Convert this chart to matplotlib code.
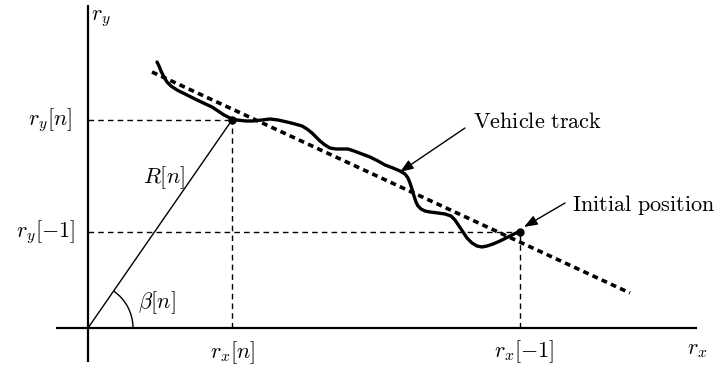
import numpy as np
import matplotlib
matplotlib.use("Agg")
import matplotlib.pyplot as plt
from matplotlib.patches import Arc

plt.rcParams['mathtext.fontset'] = 'cm'

# Diagram data (origin at axes crossing, y upward)
track_x = [69, 71, 73, 76, 79, 83, 89, 99, 109, 124, 136, 142, 149, 158, 165, 174,
           182, 190, 199, 207, 214, 219, 224, 228, 232, 237, 242, 248, 254, 260,
           266, 274, 282, 290, 297, 305, 312, 317, 320, 322, 324, 326, 328, 330,
           333, 337, 342, 350, 357, 363, 367, 371, 375, 379, 384, 389, 394, 399,
           405, 412, 418, 424, 428, 432]
track_y = [266, 262, 257, 251, 246, 242, 238, 233, 228, 221, 213, 210, 208, 207, 207, 208,
           209, 208, 206, 204, 202, 199, 195, 191, 187, 183, 180, 179, 179, 179,
           177, 174, 171, 167, 163, 160, 157, 154, 150, 145, 139, 132, 126, 122,
           119, 117, 116, 115, 114, 112, 108, 102, 96, 90, 85, 82, 81, 82,
           84, 87, 90, 93, 95, 96]
fit_x = [64, 542]
fit_y = [256, 35]
current_pt = (144, 208)   # (r_x[n], r_y[n])
initial_pt = (432, 96)    # (r_x[-1], r_y[-1])
axis_x = (-32, 609)
axis_y = (-34, 323)
arc_radius = 45

fig = plt.figure(figsize=(7.18, 3.69), dpi=100)
ax = fig.add_axes([0, 0, 1, 1])
ax.set_xlim(-88, 630)
ax.set_ylim(-41, 328)
ax.axis('off')

# axes
ax.plot(axis_x, [0, 0], color='black', lw=1.6, solid_capstyle='butt')
ax.plot([0, 0], axis_y, color='black', lw=1.6, solid_capstyle='butt')

# dashed guide lines
dash = dict(color='black', lw=1.0, linestyle=(0, (4, 3)))
cx, cy = current_pt
ix, iy = initial_pt
ax.plot([0, cx], [cy, cy], **dash)
ax.plot([cx, cx], [0, cy], **dash)
ax.plot([0, ix], [iy, iy], **dash)
ax.plot([ix, ix], [0, iy], **dash)

# R[n] line
ax.plot([0, cx], [0, cy], color='black', lw=1.0)
ang = np.degrees(np.arctan2(cy, cx))
ax.add_patch(Arc((0, 0), 2 * arc_radius, 2 * arc_radius, theta1=0, theta2=ang,
                 color='black', lw=1.0))

# fitted dotted line
ax.plot(fit_x, fit_y, color='black', lw=2.6, linestyle=(0, (1.6, 1.2)))

# vehicle track
ax.plot(track_x, track_y, color='black', lw=2.4, solid_joinstyle='round',
        solid_capstyle='round')

# points
ax.plot([cx, ix], [cy, iy], 'o', color='black', ms=5)

fs = 16
ax.text(3, 309, r'$r_y$', fontsize=fs, ha='left', va='center')
ax.text(-16, cy, r'$r_y[n]$', fontsize=fs, ha='right', va='center')
ax.text(-13, iy, r'$r_y[-1]$', fontsize=fs, ha='right', va='center')
ax.text(55, 150, r'$R[n]$', fontsize=fs, ha='left', va='center')
ax.text(50, 25, r'$\beta[n]$', fontsize=fs, ha='left', va='center')
ax.text(cx + 1, -25, r'$r_x[n]$', fontsize=fs, ha='center', va='center')
ax.text(ix + 4, -24, r'$r_x[-1]$', fontsize=fs, ha='center', va='center')
ax.text(609, -22, r'$r_x$', fontsize=fs, ha='center', va='center')

ax.text(385, 206, r'$\mathrm{Vehicle\ track}$', fontsize=fs, ha='left', va='center')
ax.text(484, 123, r'$\mathrm{Initial\ position}$', fontsize=fs, ha='left', va='center')

arrow = dict(arrowstyle='-|>,head_length=0.8,head_width=0.3', color='black', lw=1.0,
             shrinkA=0, shrinkB=0)
ax.annotate('', xy=(312, 156), xytext=(377, 200), arrowprops=arrow)
ax.annotate('', xy=(436, 101), xytext=(477, 125), arrowprops=arrow)

fig.savefig('out.png', dpi=100)
